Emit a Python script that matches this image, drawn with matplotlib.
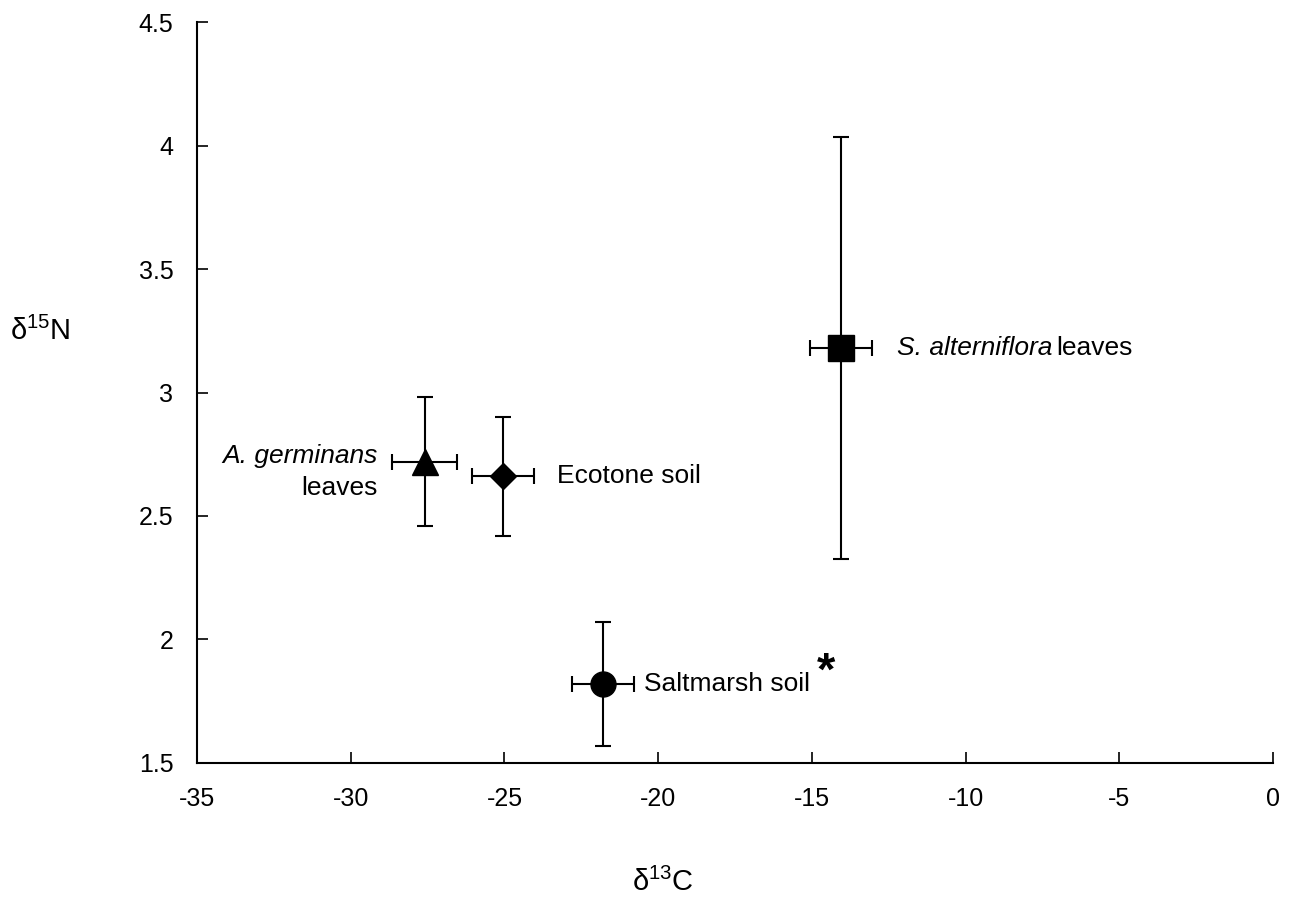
import matplotlib
matplotlib.use('Agg')
import matplotlib.pyplot as plt

plt.rcParams['font.family'] = ['Liberation Sans', 'DejaVu Sans']
plt.rcParams['mathtext.fontset'] = 'custom'
plt.rcParams['mathtext.rm'] = 'Liberation Sans'
plt.rcParams['mathtext.it'] = 'Liberation Sans:italic'

# d13C / d15N means with SE
names = ['A. germinans leaves', 'Ecotone soil', 'S. alterniflora leaves', 'Saltmarsh soil']
d13c = [-27.6, -25.05, -14.05, -21.8]
d13c_err = [1.05, 1.02, 1.02, 1.0]
d15n = [2.72, 2.66, 3.18, 1.82]
d15n_err = [0.26, 0.24, 0.855, 0.25]
markers = ['^', 'D', 's', 'o']
msizes = [19, 13, 19, 18]

xticks = [-35, -30, -25, -20, -15, -10, -5, 0]
yticks = [1.5, 2, 2.5, 3, 3.5, 4, 4.5]

fig = plt.figure(figsize=(12.93, 8.99), dpi=100)
ax = fig.add_axes([0.1524, 0.1513, 0.8321, 0.8242])

for i in range(len(names)):
    ax.errorbar(d13c[i], d15n[i], xerr=d13c_err[i], yerr=d15n_err[i],
                fmt=markers[i], color='black', ms=msizes[i], ecolor='black',
                elinewidth=1.5, capsize=5.5, capthick=1.5, zorder=3)

fs = 19
ax.annotate('A. germinans', (d13c[0], d15n[0]), xytext=(-34, 4),
            textcoords='offset points', ha='right', va='center', fontsize=fs,
            fontstyle='italic')
ax.annotate('leaves', (d13c[0], d15n[0]), xytext=(-34, -19),
            textcoords='offset points', ha='right', va='center', fontsize=fs)
ax.annotate(names[1], (d13c[1], d15n[1]), xytext=(39, 0),
            textcoords='offset points', ha='left', va='center', fontsize=fs)
s_it = ax.annotate('S. alterniflora', (d13c[2], d15n[2]), xytext=(40, 0),
                   textcoords='offset points', ha='left', va='center',
                   fontsize=fs, fontstyle='italic')
ax.annotate('leaves', xy=(1, 0), xycoords=s_it, xytext=(3, 0),
            textcoords='offset points', ha='left', va='bottom', fontsize=fs)
ax.annotate(names[3], (d13c[3], d15n[3]), xytext=(30, 0),
            textcoords='offset points', ha='left', va='center', fontsize=fs)
ax.annotate('*', (d13c[3], d15n[3]), xytext=(161, 8),
            textcoords='offset points', ha='center', va='center',
            fontsize=34, fontweight='bold')

ax.set_xlim(-35, 0)
ax.set_ylim(1.5, 4.5)
ax.set_xticks(xticks)
ax.set_xticklabels([str(t) for t in xticks])
ax.set_yticks(yticks)
ax.set_yticklabels(['1.5', '2', '2.5', '3', '3.5', '4', '4.5'])
ax.tick_params(direction='in', length=8, width=1.2, labelsize=18, pad=17)
ax.spines['top'].set_visible(False)
ax.spines['right'].set_visible(False)
ax.spines['left'].set_linewidth(1.5)
ax.spines['bottom'].set_linewidth(1.5)

ax.set_xlabel(r'δ$^{\mathregular{13}}$C', fontsize=21, va='center')
ax.xaxis.set_label_coords(0.433, -0.161)
ax.set_ylabel(r'δ$^{\mathregular{15}}$N', fontsize=21, rotation=0, va='center', ha='center')
ax.yaxis.set_label_coords(-0.146, 0.583)

plt.savefig('out.png', dpi=100)
